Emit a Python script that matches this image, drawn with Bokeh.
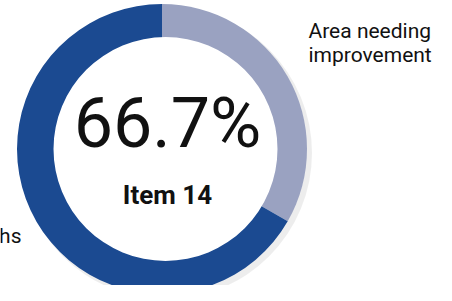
import math
from bokeh.plotting import figure
from bokeh.models import Range1d, ColumnDataSource
from bokeh.core.properties import value
from bokeh.embed import file_html
from bokeh.resources import INLINE

# ---- data ----
labels = ["Area needing improvement", "Strengths"]
values = [33.3, 66.7]
colors = ["#9aa2c1", "#1b4a91"]
item_label = "Item 14"

FONT = "Roboto"
W, H = 436, 285


def Y(y):
    return H - y


def B(baseline, size, k=0.36):
    # text anchor so that the rendered baseline lands at `baseline`
    return Y(baseline - k * size)


p = figure(width=W, height=H, output_backend="svg", toolbar_location=None,
           x_range=Range1d(0, W), y_range=Range1d(0, H), min_border=0)
p.axis.visible = False
p.grid.visible = False
p.outline_line_color = None
p.background_fill_color = "white"
p.border_fill_color = "white"

cx, cy, R = 161.5, 148.5, 145
hx, hy, r = 165.0, 148.5, 112

# soft shadow
p.circle(x=cx + 4, y=Y(cy + 4), radius=R + 1, fill_color="black", fill_alpha=0.07, line_color=None)

# slices, clockwise from 12 o'clock
total = sum(values)
starts, ends = [], []
a = math.pi / 2
for v in values:
    sweep = 2 * math.pi * v / total
    ends.append(a)
    starts.append(a - sweep)
    a -= sweep
src = ColumnDataSource(dict(start=starts, end=ends, color=colors, label=labels))
p.wedge(x=cx, y=Y(cy), radius=R, start_angle="start", end_angle="end",
        fill_color="color", line_color=None, source=src)

# hole
p.circle(x=hx, y=Y(hy), radius=r, fill_color="white", line_color=None)

# centre texts
p.text(x=[167], y=[B(148, 70)], text=[f"{values[1]:.1f}%"], text_font=value(FONT),
       text_font_size="70px", text_align="center", text_baseline="alphabetic", text_color="#111111")
p.text(x=[167], y=[B(204, 26)], text=[item_label], text_font=value(FONT), text_font_style="bold",
       text_font_size="26px", text_align="center", text_baseline="alphabetic", text_color="#111111")

# slice labels
p.text(x=[308, 308], y=[B(38, 21), B(62, 21)], text=["Area needing", "improvement"], text_font=value(FONT),
       text_font_size="21px", text_align="left", text_baseline="alphabetic", text_color="#111111")
p.text(x=[21], y=[B(243, 21)], text=[labels[1]], text_font=value(FONT),
       text_font_size="21px", text_align="right", text_baseline="alphabetic", text_color="#111111")

open("out.html", "w").write(file_html(p, INLINE))
